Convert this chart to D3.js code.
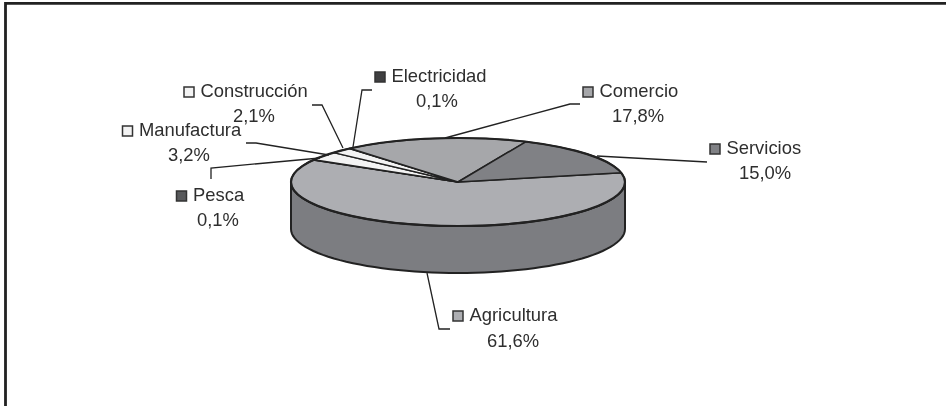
<!DOCTYPE html>
<html><head><meta charset="utf-8">
<script src="https://cdn.jsdelivr.net/npm/d3@7/dist/d3.min.js"></script>
<style>html,body{margin:0;background:#fff}svg{display:block;filter:blur(0.35px)}text{font-family:"Liberation Sans",Arial,sans-serif;font-size:18.4px;fill:#2e2e2e}</style>
</head><body><svg id="c" width="946" height="406"></svg>
<script>
const categories=["Agricultura","Pesca","Manufactura","Construcción","Electricidad","Comercio","Servicios"];
const values=[61.6,0.1,3.2,2.1,0.1,17.8,15.0];
const valueLabels=["61,6%","0,1%","3,2%","2,1%","0,1%","17,8%","15,0%"];
const sliceColors=["#adaeb2","#58595b","#f3f3f3","#f3f3f3","#3f3f41","#a6a7aa","#808185"];
const swatchColors=["#adaeb2","#58595b","#f3f3f3","#f3f3f3","#3f3f41","#a6a7aa","#808185"];
// label anchors: swatch centre x, name baseline y, percent centre x, percent baseline y
const labelSwatchX=[458,181.5,127.5,189,380,588,715];
const labelNameY=[321,201,136,97,82,97,154];
const labelPctX=[513,218,189,254,437,638,765];
const labelPctY=[347,226,161,122,107,122,179];
const leaderPoints=[
 [[427,273],[439,329],[450,329]],
 [[320,158],[211,168],[211,179]],
 [[329,155],[256,143],[246,143]],
 [[343,148],[322,105],[312,105]],
 [[353,147],[362,90],[372,90]],
 [[445,138],[570,104],[580,104]],
 [[597,156],[707,162]]
];
const cx=458,cy=182,rx=167,ry=44,depth=47,startDeg=78;
const svg=d3.select("#c");
// frame
svg.append("path").attr("d","M5.5,406V3.3H946").attr("fill","none").attr("stroke","#222").attr("stroke-width",2.8);

const sideColor="#7c7d81";
const xS=d3.scaleLinear().domain([-1,1]).range([cx-rx,cx+rx]);
const yS=d3.scaleLinear().domain([-1,1]).range([cy-ry,cy+ry]);
const angles=d3.range(0,181,3).map(a=>a*Math.PI/180);
const side=d3.area().x(a=>xS(Math.cos(a))).y0(a=>yS(Math.sin(a))).y1(a=>yS(Math.sin(a))+depth);
svg.append("path").attr("d",side(angles)).attr("fill",sideColor).attr("stroke","#222").attr("stroke-width",2);

const pie=d3.pie().value(d=>d).sort(null).startAngle(startDeg*Math.PI/180).endAngle((startDeg+360)*Math.PI/180);
const arc=d3.arc().innerRadius(0).outerRadius(rx);
const g=svg.append("g").attr("transform",`translate(${cx},${cy}) scale(1,${ry/rx})`);
g.selectAll("path").data(pie(values)).join("path").attr("d",arc)
 .attr("fill",(d,i)=>sliceColors[i]).attr("stroke","#222").attr("stroke-width",1.5)
 .attr("vector-effect","non-scaling-stroke").attr("stroke-linejoin","round");
g.append("ellipse").attr("rx",rx).attr("ry",rx).attr("fill","none").attr("stroke","#222").attr("stroke-width",2.2).attr("vector-effect","non-scaling-stroke");

const line=d3.line();
svg.selectAll("path.leader").data(leaderPoints).join("path").attr("class","leader").attr("d",line)
 .attr("fill","none").attr("stroke","#222").attr("stroke-width",1.3);

categories.forEach((c,i)=>{
  svg.append("rect").attr("x",labelSwatchX[i]-5).attr("y",labelNameY[i]-10).attr("width",10).attr("height",10)
    .attr("fill",swatchColors[i]).attr("stroke","#333").attr("stroke-width",1.5);
  svg.append("text").attr("x",labelSwatchX[i]+11.5).attr("y",labelNameY[i]).text(c);
  svg.append("text").attr("x",labelPctX[i]).attr("y",labelPctY[i]).attr("text-anchor","middle").text(valueLabels[i]);
});
</script></body></html>
